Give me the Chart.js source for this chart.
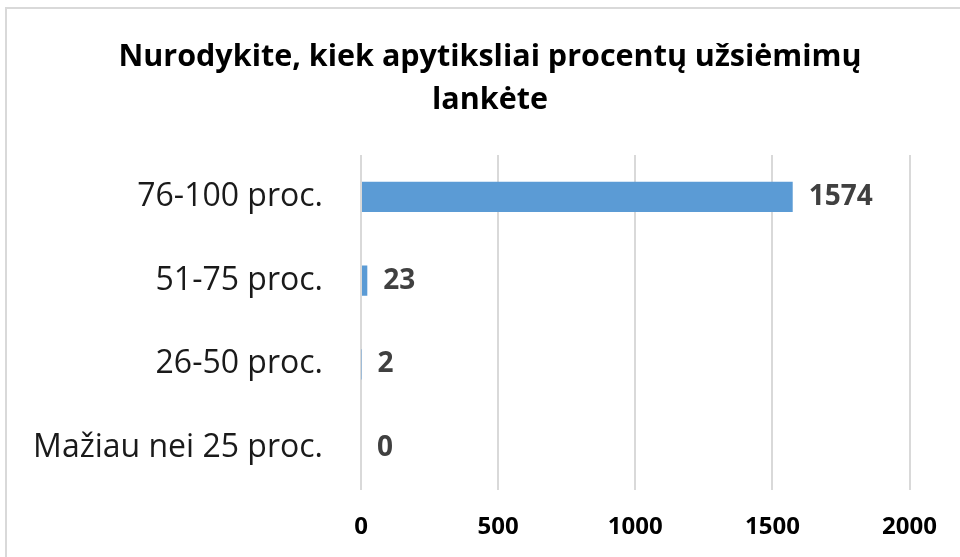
<!DOCTYPE html>
<html>
<head>
<meta charset="utf-8">
<script src="https://cdn.jsdelivr.net/npm/chart.js@4.4.1/dist/chart.umd.min.js"></script>
<style>
  html, body { margin: 0; padding: 0; background: #fff; overflow: hidden; }
  #wrap { position: relative; width: 960px; height: 557px; }
  #frame { position: absolute; left: 5px; top: 7px; width: 1000px; height: 600px; border: 2px solid #d9d9d9; box-sizing: border-box; }
  #myChart { position: absolute; left: 0; top: 0; }
</style>
</head>
<body>
<div id="wrap">
  <div id="frame"></div>
  <canvas id="myChart" width="960" height="557"></canvas>
</div>
<script>
// duomenys
const categories = ['76-100 proc.', '51-75 proc.', '26-50 proc.', 'Mažiau nei 25 proc.'];
const values = [1574, 23, 2, 0];
const xTicks = [0, 500, 1000, 1500, 2000];
const titleLines = ['Nurodykite, kiek apytiksliai procentų užsiėmimų', 'lankėte'];

const FONT = '"Open Sans", sans-serif';

// pavadinimas (centruotas ties visu rėmeliu, ne tik braižymo sritimi)
const titleDraw = {
    id: 'titleDraw',
    afterDraw(chart) {
        const ctx = chart.ctx;
        ctx.save();
        ctx.font = 'bold 30.5px ' + FONT;
        ctx.fillStyle = '#000';
        ctx.textAlign = 'center';
        ctx.textBaseline = 'middle';
        ctx.fillText(titleLines[0], 490, 57);
        ctx.fillText(titleLines[1], 490, 100);
        ctx.restore();
    }
};

// reikšmių etiketės prie stulpelių
const valueLabels = {
    id: 'valueLabels',
    afterDatasetsDraw(chart) {
        const ctx = chart.ctx;
        const meta = chart.getDatasetMeta(0);
        ctx.save();
        ctx.font = 'bold 28px ' + FONT;
        ctx.fillStyle = '#404040';
        ctx.textAlign = 'left';
        ctx.textBaseline = 'middle';
        meta.data.forEach((bar, i) => {
            ctx.fillText(String(values[i]), bar.x + 16, bar.y);
        });
        ctx.restore();
    }
};

document.addEventListener('DOMContentLoaded', () => {
    const ctx = document.getElementById('myChart');
    new Chart(ctx, {
        type: 'bar',
        data: {
            labels: categories,
            datasets: [{
                data: values,
                backgroundColor: '#5b9bd5',
                borderWidth: 0,
                categoryPercentage: 0.36,
                barPercentage: 1.0,
            }]
        },
        options: {
            indexAxis: 'y',
            responsive: false,
            animation: false,
            layout: { padding: { left: 0, right: 48, top: 155, bottom: 0 } },
            plugins: {
                legend: { display: false },
                tooltip: { enabled: false },
                title: { display: false }
            },
            scales: {
                x: {
                    min: 0,
                    max: 2000,
                    afterBuildTicks(axis) { axis.ticks = xTicks.map(v => ({ value: v })); },
                    afterFit(axis) { axis.height = 67; },
                    grid: { color: '#d9d9d9', lineWidth: 2, drawTicks: false },
                    border: { display: false },
                    ticks: {
                        padding: 23,
                        color: '#000',
                        font: { family: FONT, size: 24, weight: 'bold' },
                        callback: v => String(v),
                    }
                },
                y: {
                    afterFit(axis) { axis.width = 361; },
                    grid: { display: false, drawTicks: false },
                    border: { display: false },
                    ticks: {
                        padding: 38,
                        color: '#1a1a1a',
                        font: { family: FONT, size: 32 },
                    }
                }
            }
        },
        plugins: [valueLabels, titleDraw]
    });
});
</script>
</body>
</html>
